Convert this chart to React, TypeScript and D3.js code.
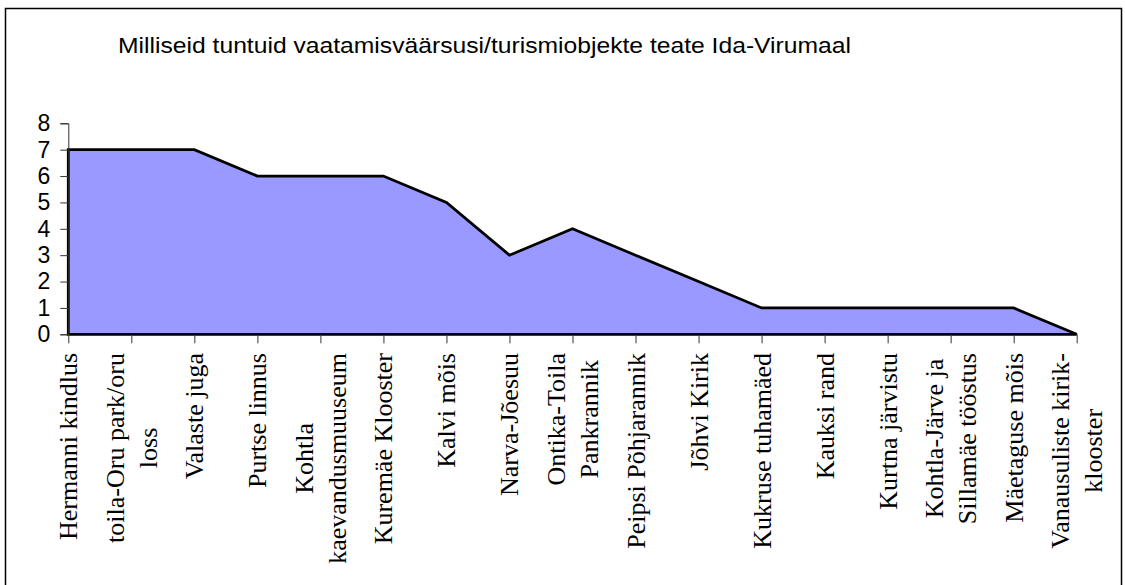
import React, { useEffect, useRef } from 'react';
import * as d3 from 'd3';

const title = 'Milliseid tuntuid vaatamisväärsusi/turismiobjekte teate Ida-Virumaal';

// category labels, "\n" marks a line break in the axis label
const categories = [
  'Hermanni kindlus',
  'toila-Oru park/oru\nloss',
  'Valaste juga',
  'Purtse linnus',
  'Kohtla\nkaevandusmuuseum',
  'Kuremäe Klooster',
  'Kalvi mõis',
  'Narva-Jõesuu',
  'Ontika-Toila\nPankrannik',
  'Peipsi Põhjarannik',
  'Jõhvi Kirik',
  'Kukruse tuhamäed',
  'Kauksi rand',
  'Kurtna järvistu',
  'Kohtla-Järve ja\nSillamäe tööstus',
  'Mäetaguse mõis',
  'Vanausuliste kirik-\nklooster',
];

const values = [7, 7, 7, 6, 6, 6, 5, 3, 4, 3, 2, 1, 1, 1, 1, 1, 0];

const yTicks = [0, 1, 2, 3, 4, 5, 6, 7, 8];

const W = 1125;
const H = 585;

function AreaChart() {
  const ref = useRef<SVGSVGElement | null>(null);

  useEffect(() => {
    const svg = d3.select(ref.current);
    svg.selectAll('*').remove();

    const x = d3.scalePoint<string>().domain(categories).range([68.3, 1076.7]);
    const y = d3.scaleLinear().domain([0, 8]).range([334.3, 123.3]);

    // outer chart border
    svg.append('rect')
      .attr('x', 5.5).attr('y', 8.5)
      .attr('width', 1116).attr('height', 600)
      .attr('fill', '#fff')
      .attr('stroke', '#000')
      .attr('stroke-width', 1.5);

    svg.append('text')
      .attr('x', 118)
      .attr('y', 53)
      .attr('font-family', 'Arial, "Liberation Sans", sans-serif')
      .attr('font-size', 22)
      .attr('textLength', 733)
      .attr('lengthAdjust', 'spacingAndGlyphs')
      .text(title);

    const data = categories.map((c, i) => ({ c, v: values[i] }));

    const area = d3.area<{ c: string; v: number }>()
      .x(d => x(d.c) as number)
      .y0(y(0))
      .y1(d => y(d.v));

    svg.append('path')
      .attr('d', area(data) + 'Z')
      .attr('fill', '#9999FF')
      .attr('stroke', '#000')
      .attr('stroke-width', 2.8)
      .attr('stroke-linejoin', 'miter');

    // y axis
    const yAxis = d3.axisLeft(y).tickValues(yTicks).tickSize(8).tickPadding(10).tickFormat(d3.format('d'));
    const gy = svg.append('g').attr('transform', 'translate(68.3,0)').call(yAxis);
    gy.select('.domain').attr('stroke', '#333').attr('stroke-width', 1);
    gy.selectAll('.tick line').attr('stroke', '#333');
    gy.selectAll('.tick text')
      .attr('font-family', 'Arial, "Liberation Sans", sans-serif')
      .attr('font-size', 23)
      .attr('fill', '#000');

    // x axis ticks
    const xAxis = d3.axisBottom(x).tickSize(9).tickFormat(() => '');
    const gx = svg.append('g').attr('transform', `translate(0,${y(0)})`).call(xAxis);
    gx.select('.domain').remove();
    gx.selectAll('.tick line').attr('stroke', '#333');

    // rotated category labels
    const lineH = 33;
    categories.forEach(c => {
      const lines = c.split('\n');
      const g = svg.append('g')
        .attr('transform', `translate(${x(c)},353) rotate(-90)`);
      const texts = lines.map((ln, i) =>
        g.append('text')
          .attr('font-family', '"Times New Roman", "Liberation Serif", serif')
          .attr('font-size', 26)
          .attr('text-anchor', 'middle')
          .attr('y', 9 + (i - (lines.length - 1) / 2) * lineH)
          .text(ln)
      );
      const maxLen = d3.max(texts, t => (t.node() as SVGTextElement).getComputedTextLength()) || 0;
      texts.forEach(t => t.attr('x', -maxLen / 2));
    });
  }, []);

  return <svg ref={ref} width={W} height={H} style={{ display: 'block' }} />;
}

export default function App() {
  return (
    <div style={{ position: 'absolute', left: 0, top: 0, margin: 0 }}>
      <AreaChart />
    </div>
  );
}
